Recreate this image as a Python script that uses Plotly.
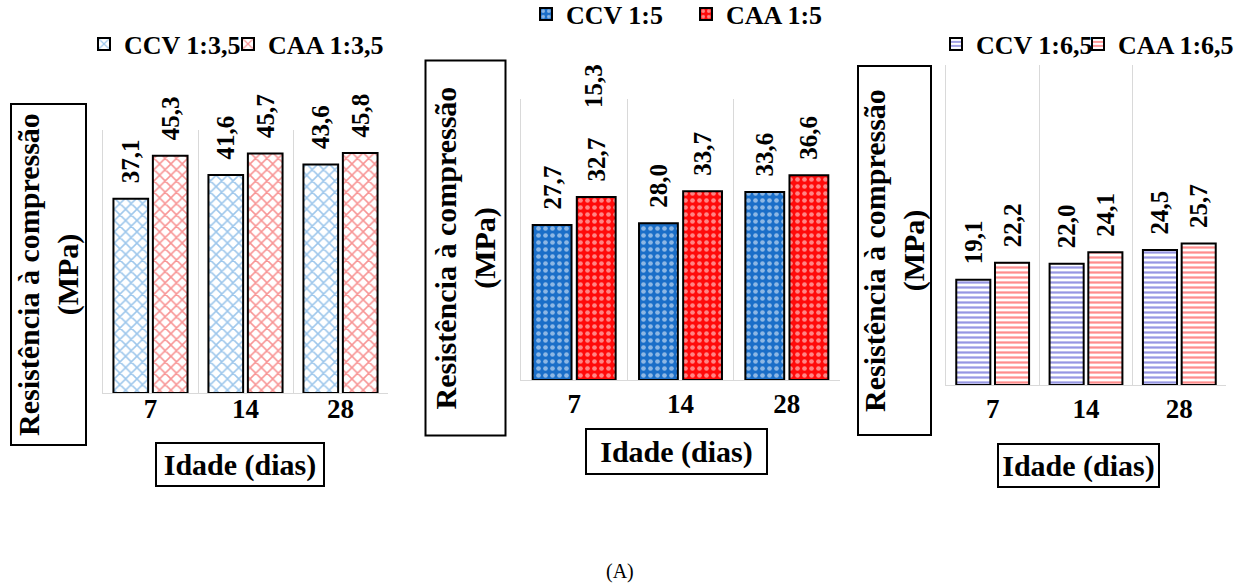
import plotly.graph_objects as go

# ---------------- data ----------------
dias = ["7", "14", "28"]
ccv_1_35 = [37.1, 41.6, 43.6]
caa_1_35 = [45.3, 45.7, 45.8]
ccv_1_5 = [27.7, 28.0, 33.6]
caa_1_5 = [32.7, 33.7, 36.6]
ccv_1_65 = [19.1, 22.0, 24.5]
caa_1_65 = [22.2, 24.1, 25.7]
nomes_135 = ["CCV 1:3,5", "CAA 1:3,5"]
nomes_15 = ["CCV 1:5", "CAA 1:5"]
nomes_165 = ["CCV 1:6,5", "CAA 1:6,5"]

W, H = 1241, 586
FONT = "Liberation Serif"


def fx(x):
    return x / W


def fy(y):
    return 1 - y / H


fig = go.Figure()

lab_font = dict(family=FONT, size=25, color="black", weight="bold")
tmpl = "\u00a0\u00a0%{y:.1f}"

BLUE1, RED1 = "#3b8ed8", "#f02a2a"
BLUE2, RED2 = "#1a6ec8", "#ff0a0a"
BLUE3, RED3 = "#3030c8", "#ff1c1c"

panels = [
    ("x", "y", ("legend", "legend2"), (ccv_1_35, caa_1_35), nomes_135,
     [dict(color=BLUE1, pattern=dict(shape="x", bgcolor="white", fgcolor=BLUE1, size=8, solidity=0.35)),
      dict(color=RED1, pattern=dict(shape="x", bgcolor="white", fgcolor=RED1, size=8, solidity=0.35))]),
    ("x2", "y2", ("legend3", "legend4"), (ccv_1_5, caa_1_5), nomes_15,
     [dict(color=BLUE2, pattern=dict(shape=".", fillmode="overlay", fgcolor="white", size=7, solidity=0.35)),
      dict(color=RED2, pattern=dict(shape=".", fillmode="overlay", fgcolor="white", size=7, solidity=0.35))]),
    ("x3", "y3", ("legend5", "legend6"), (ccv_1_65, caa_1_65), nomes_165,
     [dict(color=BLUE3, pattern=dict(shape="-", bgcolor="white", fgcolor=BLUE3, size=5, solidity=0.45)),
      dict(color=RED3, pattern=dict(shape="-", bgcolor="white", fgcolor=RED3, size=5, solidity=0.45))]),
]

for xa, ya, lgs, vals, names, mk in panels:
    for v, n, m, lg in zip(vals, names, mk, lgs):
        fig.add_trace(go.Bar(
            x=dias, y=v, name=n, xaxis=xa, yaxis=ya, legend=lg,
            marker=dict(color=m["color"], pattern=m["pattern"],
                        line=dict(color="black", width=2)),
            texttemplate=tmpl, textposition="outside", textangle=-90,
            textfont=lab_font, constraintext="none", cliponaxis=False,
        ))

grid = "#d9d9d9"
tick_font = dict(family=FONT, size=27, color="black", weight="bold")


def xax(d, anchor, standoff):
    return dict(domain=d, type="category", showgrid=True, gridcolor=grid, tickson="boundaries",
                showline=True, linecolor=grid, linewidth=1, ticks="", ticklabelstandoff=standoff,
                tickfont=tick_font, fixedrange=True, zeroline=False, anchor=anchor)


def yax(d, r, anchor):
    return dict(domain=d, range=r, showticklabels=False, showgrid=False, showline=True,
                linecolor=grid, linewidth=1, ticks="", zeroline=False, anchor=anchor)


leg_font = dict(family=FONT, size=26, color="black", weight="bold")


def leg(xp, yp):
    return dict(orientation="h", x=fx(xp), y=fy(yp), xanchor="left", yanchor="middle",
                font=leg_font, bgcolor="rgba(0,0,0,0)", itemwidth=30)


fig.update_layout(
    width=W, height=H, autosize=False,
    margin=dict(l=0, r=0, t=0, b=0, autoexpand=False),
    paper_bgcolor="white", plot_bgcolor="white",
    barmode="group", bargap=0.17, bargroupgap=0.12,
    separators=",.",
    xaxis=xax([fx(103), fx(388)], "y", -8),
    yaxis=yax([fy(393), fy(130)], [0, 50.2], "x"),
    xaxis2=xax([fx(521), fx(840)], "y2", 0),
    yaxis2=yax([fy(380), fy(99)], [0, 50.2], "x2"),
    xaxis3=xax([fx(946), fx(1226)], "y3", 0),
    yaxis3=yax([fy(385), fy(65)], [0, 58.1], "x3"),
    legend=leg(84, 44),
    legend2=leg(228, 44),
    legend3=leg(526, 14),
    legend4=leg(686, 14),
    legend5=leg(936, 44),
    legend6=leg(1078, 44),
    showlegend=True,
)

title_font = dict(family=FONT, size=30, color="black", weight="bold")
ytxt = "Resistência à compressão<br>(MPa)"

# boxed y titles
for cx, cy, lng, sht in [(48.5, 274.5, 339, 73), (466, 248.5, 373, 78), (894.5, 250.5, 367, 71)]:
    fig.add_annotation(text=ytxt, xref="paper", yref="paper", x=fx(cx), y=fy(cy),
                       xanchor="center", yanchor="middle", showarrow=False, textangle=-90,
                       width=lng, height=sht, borderwidth=2, bordercolor="black", borderpad=0,
                       font=title_font, align="center", bgcolor="white")

# boxed x titles
for cx, cy, w, h in [(240, 464.5, 166, 41), (676.5, 451.5, 179, 43), (1078.5, 465.5, 159, 41)]:
    fig.add_annotation(text="Idade (dias)", xref="paper", yref="paper", x=fx(cx), y=fy(cy),
                       xanchor="center", yanchor="middle", showarrow=False,
                       width=w, height=h, borderwidth=2, bordercolor="black", borderpad=0,
                       font=title_font, align="center", bgcolor="white")

# stray partially hidden label in the middle panel
fig.add_annotation(text="15,3", xref="paper", yref="paper", x=fx(594), y=fy(86),
                   xanchor="center", yanchor="middle", showarrow=False, textangle=-90,
                   font=lab_font)

fig.add_annotation(text="(A)", xref="paper", yref="paper", x=fx(620), y=fy(571),
                   xanchor="center", yanchor="middle", showarrow=False,
                   font=dict(family=FONT, size=20, color="black"))

fig.write_html("out.html")
